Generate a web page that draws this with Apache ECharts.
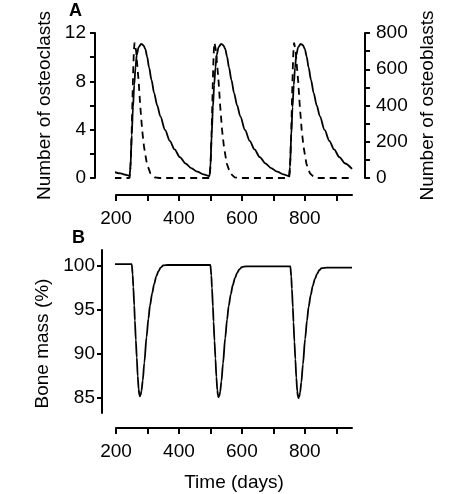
<!DOCTYPE html>
<html>
<head>
<meta charset="utf-8">
<script src="https://cdn.jsdelivr.net/npm/echarts@6/dist/echarts.min.js"></script>
<style>
html,body{margin:0;padding:0;background:#fff;}
#chart{width:457px;height:494px;}
</style>
</head>
<body>
<div id="chart"></div>
<script>
// ---- Data ----
// Panel A: osteoclasts (dashed, left axis)
var osteoclastDays = [195,243,245,247,249,251,253,255,257,259,261,264,267,272,277,283,289,298,309,323,338,
  497,499,501,503,505,507,509,511,513,515,518,521,526,531,537,543,552,563,577,592,
  750,752,754,756,758,760,762,764,766,768,771,774,779,784,790,796,805,816,830,845,950];
var osteoclastValues = [0,0,0.5,1.5,3,5,7.2,9.2,10.6,11.2,11.1,10.5,9.5,8.0,6.0,4.0,2.6,1.2,0.4,0.05,0,
  0,0.5,1.5,3,5,7.2,9.2,10.6,11.2,11.1,10.5,9.5,8.0,6.0,4.0,2.6,1.2,0.4,0.05,0,
  0,0.5,1.5,3,5,7.2,9.2,10.6,11.2,11.1,10.5,9.5,8.0,6.0,4.0,2.6,1.2,0.4,0.05,0,0];

// Panel A: osteoblasts (solid, right axis)
var osteoblastDays = [195,215,230,243,246,250,254,258,262,266,272,280,287,293,299,305,313,321,331,341,356,371,386,403,421,439,458,478,
  497,500,504,508,512,516,520,526,534,541,547,553,559,567,575,585,595,610,625,640,657,675,693,712,732,
  750,753,757,761,765,769,773,779,787,794,800,806,812,820,828,838,848,863,878,893,910,928,950];
var osteoblastValues = [33,25,18,12,60,237,390,513,610,679,722,740,733,712,670,610,540,470,400,340,265,205,158,115,80,55,35,20,
  10,60,237,390,513,610,679,722,740,733,712,670,610,540,470,400,340,265,205,158,115,80,55,35,20,
  10,60,237,390,513,610,679,722,740,733,712,670,610,540,470,400,340,265,205,158,115,80,50];

// Panel B: bone mass (%)
var boneDays = [195,250,253,255,258,260,263,266,269,272,274,276,278,281,285,290,297,303,308,315,321,328,335,342,350,365,
  500,503,505,508,510,513,516,519,522,524,526,528,531,535,540,547,553,558,565,571,578,585,592,600,615,
  754,757,759,762,764,767,770,773,776,778,780,782,785,789,794,801,807,812,819,825,832,839,846,854,870,950];
var boneValues = [100.2,100.2,99.0,97.6,95.5,93.8,91.6,89.6,87.5,86.0,85.4,85.2,85.3,85.8,87.0,89.0,91.9,94.0,95.5,96.9,97.9,98.8,99.4,99.8,100.05,100.1,
  100.1,98.9,97.5,95.4,93.7,91.5,89.5,87.4,85.9,85.3,85.1,85.2,85.7,86.9,88.9,91.8,93.9,95.4,96.8,97.8,98.6,99.2,99.6,99.85,99.95,
  99.95,98.8,97.4,95.3,93.6,91.4,89.4,87.3,85.8,85.2,85.0,85.1,85.6,86.8,88.8,91.7,93.8,95.3,96.7,97.7,98.5,99.1,99.5,99.75,99.8,99.8];

// Tick / label values
var timeTicks = [200,300,400,500,600,700,800,900];
var timeLabels = [200,400,600,800];
var clastTicks = [0,2,4,6,8,10,12];
var clastLabels = [0,4,8,12];
var blastTicks = [0,100,200,300,400,500,600,700,800];
var blastLabels = [0,200,400,600,800];
var boneTicks = [85,90,95,100];

function pairs(xs, ys){ return xs.map(function(x,i){ return [x, ys[i]]; }); }

var FONT = '"Liberation Sans", Arial, Helvetica, sans-serif';
var axisLineStyle = { show:true, onZero:false, lineStyle:{ color:'#000', width:2 } };
function tick(vals, len){ return { show:true, customValues: vals, length: len, inside:false, lineStyle:{ color:'#000', width:2 } }; }
function label(vals, margin){ return { show:true, customValues: vals, margin: margin, color:'#000', fontSize:19, fontFamily: FONT }; }
var nameStyle = { color:'#000', fontSize:19, fontFamily: FONT };

var chart = echarts.init(document.getElementById('chart'), null, { renderer:'canvas' });
chart.setOption({
  animation:false,
  backgroundColor:'#fff',
  grid:[
    { left:116, right:105, top:33, bottom:316 },
    { left:116, right:105, top:250, bottom:81 }
  ],
  xAxis:[
    { gridIndex:0, type:'value', min:200, max:950, position:'bottom', offset:17,
      axisLine:axisLineStyle, axisTick:tick(timeTicks,6), axisLabel:label(timeLabels,14), splitLine:{show:false} },
    { gridIndex:1, type:'value', min:200, max:950, position:'bottom', offset:15,
      axisLine:axisLineStyle, axisTick:tick(timeTicks,6), axisLabel:label(timeLabels,14), splitLine:{show:false},
      name:'Time (days)', nameLocation:'middle', nameGap:45, nameTextStyle:nameStyle }
  ],
  yAxis:[
    { gridIndex:0, type:'value', min:0, max:12, position:'left', offset:21,
      axisLine:axisLineStyle, axisTick:tick(clastTicks,5), axisLabel:label(clastLabels,9), splitLine:{show:false},
      name:'Number of osteoclasts', nameLocation:'middle', nameGap:41, nameTextStyle:nameStyle },
    { gridIndex:0, type:'value', min:0, max:800, position:'right', offset:13,
      axisLine:axisLineStyle, axisTick:tick(blastTicks,5), axisLabel:label(blastLabels,11), splitLine:{show:false},
      name:'Number of osteoblasts', nameLocation:'middle', nameGap:47, nameTextStyle:nameStyle },
    { gridIndex:1, type:'value', min:83.3, max:101.8, position:'left', offset:14,
      axisLine:axisLineStyle, axisTick:tick(boneTicks,5), axisLabel:label(boneTicks,7), splitLine:{show:false},
      name:'Bone mass (%)', nameLocation:'middle', nameGap:44,
      nameTextStyle:{ color:'#000', fontSize:19, fontFamily: FONT, padding:[0,24,0,0] } }
  ],
  series:[
    { type:'line', xAxisIndex:0, yAxisIndex:0, data:pairs(osteoclastDays, osteoclastValues),
      showSymbol:false, clip:false, smooth:false, z:5,
      lineStyle:{ color:'#000', width:1.8, type:[7,5] } },
    { type:'line', xAxisIndex:0, yAxisIndex:1, data:pairs(osteoblastDays, osteoblastValues),
      showSymbol:false, clip:false, smooth:0.3, smoothMonotone:'x',
      lineStyle:{ color:'#000', width:1.8 } },
    { type:'line', xAxisIndex:1, yAxisIndex:2, data:pairs(boneDays, boneValues),
      showSymbol:false, clip:false, smooth:0.3, smoothMonotone:'x',
      lineStyle:{ color:'#000', width:1.8 } }
  ],
  graphic:[
    { type:'text', left:69, top:2, style:{ text:'A', font:'bold 18px ' + FONT, fill:'#000' } },
    { type:'text', left:72, top:229, style:{ text:'B', font:'bold 18px ' + FONT, fill:'#000' } }
  ]
});
</script>
</body>
</html>
